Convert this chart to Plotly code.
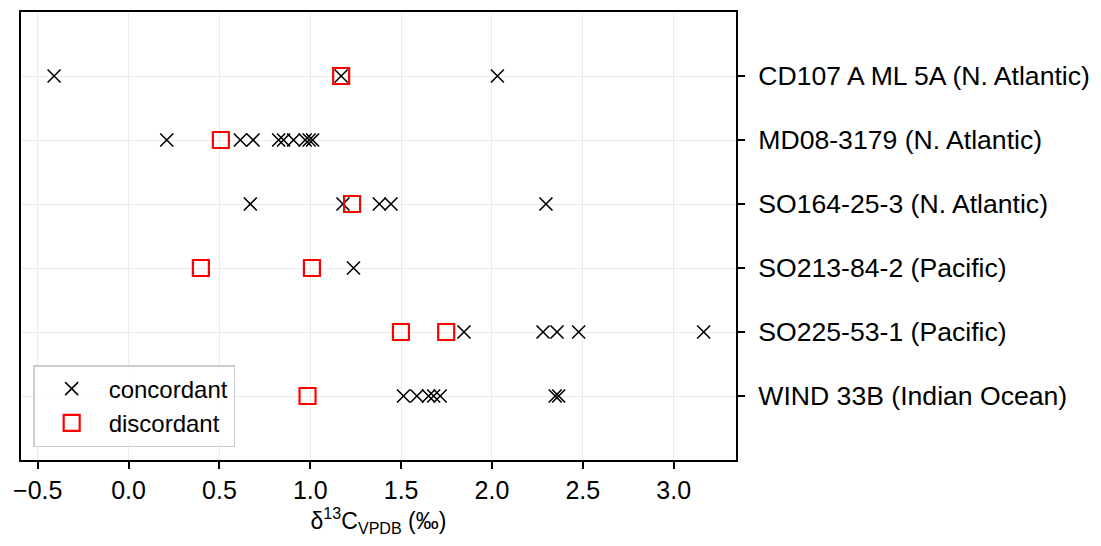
import plotly.graph_objects as go

cores = [
    "CD107 A ML 5A (N. Atlantic)",
    "MD08-3179 (N. Atlantic)",
    "SO164-25-3 (N. Atlantic)",
    "SO213-84-2 (Pacific)",
    "SO225-53-1 (Pacific)",
    "WIND 33B (Indian Ocean)",
]

concordant = [
    [-0.41, 1.17, 2.03],
    [0.21, 0.615, 0.685, 0.826, 0.853, 0.908, 0.972, 0.994, 1.013],
    [0.67, 1.18, 1.38, 1.444, 2.297],
    [1.238],
    [1.846, 2.281, 2.358, 2.477, 3.165],
    [1.513, 1.587, 1.651, 1.679, 1.715, 2.348, 2.367],
]

discordant = [
    [1.17],
    [0.508],
    [1.23],
    [0.398, 1.009],
    [1.499, 1.748],
    [0.985],
]

x_ticks = [-0.5, 0.0, 0.5, 1.0, 1.5, 2.0, 2.5, 3.0]

FONT = "Liberation Sans, Arial, Helvetica, sans-serif"

cx, cy = [], []
for core, vals in zip(cores, concordant):
    cx += vals
    cy += [core] * len(vals)
dx, dy = [], []
for core, vals in zip(cores, discordant):
    dx += vals
    dy += [core] * len(vals)

fig = go.Figure()
fig.add_trace(go.Scatter(
    x=cx, y=cy, mode="markers", name="concordant",
    marker=dict(symbol="x-thin", size=13, color="black",
                line=dict(color="black", width=1.6)),
))
fig.add_trace(go.Scatter(
    x=dx, y=dy, mode="markers", name="discordant",
    marker=dict(symbol="square-open", size=16, color="#ff0000",
                line=dict(color="#ff0000", width=2.2)),
))

fig.update_layout(
    width=1101, height=546,
    margin=dict(l=21, r=365, t=10, b=86),
    paper_bgcolor="white", plot_bgcolor="white",
    font=dict(family=FONT, size=24, color="black"),
    showlegend=True,
    legend=dict(
        x=0.017, y=0.029, xanchor="left", yanchor="bottom",
        bgcolor="rgba(255,255,255,0.8)", bordercolor="#cccccc", borderwidth=1.5,
        font=dict(family=FONT, size=24, color="black"),
        itemwidth=64,
    ),
    xaxis=dict(
        range=[-0.592, 3.343],
        tickvals=x_ticks, tickformat=".1f",
        tickfont=dict(size=25),
        ticks="outside", ticklen=7, tickwidth=1.6, tickcolor="black",
        showline=True, linecolor="black", linewidth=2, mirror=True,
        showgrid=True, gridcolor="#ebebeb", gridwidth=1.2,
        zeroline=False,
        title=dict(text="δ<sup>13</sup>C<sub>VPDB</sub> (‰)", standoff=10,
                   font=dict(size=23)),
    ),
    yaxis=dict(
        type="category", categoryorder="array", categoryarray=cores,
        range=[6, -1], side="right",
        tickfont=dict(size=26.6),
        ticks="outside", ticklen=7, tickwidth=1.6, tickcolor="black",
        ticklabelstandoff=8,
        showline=True, linecolor="black", linewidth=2, mirror=True,
        showgrid=True, gridcolor="#ebebeb", gridwidth=1.2,
        zeroline=False,
    ),
)

fig.write_html("out.html")
